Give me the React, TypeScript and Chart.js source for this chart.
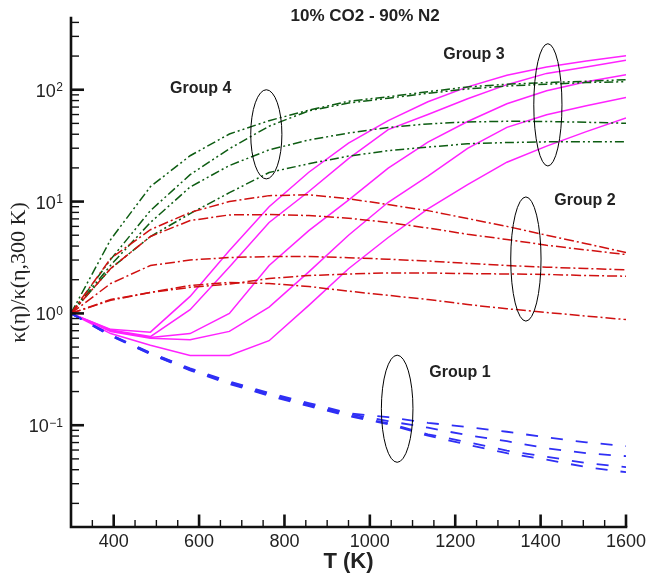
import React, { useEffect, useRef } from "react";
import { Chart, registerables } from "chart.js";

Chart.register(...registerables);

// ---- data ----
const temperatureK = [300, 393, 486, 579, 671, 764, 857, 950, 1043, 1136, 1229, 1321, 1414, 1507, 1600];

// Group 1 (blue dashed)
const blue1 = [1, 0.645, 0.445, 0.322, 0.246, 0.194, 0.158, 0.128, 0.118, 0.105, 0.0964, 0.0874, 0.0778, 0.0703, 0.065];
const blue2 = [1, 0.64, 0.442, 0.318, 0.242, 0.19, 0.154, 0.126, 0.109, 0.095, 0.0814, 0.072, 0.0623, 0.0562, 0.0529];
const blue3 = [1, 0.632, 0.436, 0.313, 0.238, 0.186, 0.151, 0.123, 0.104, 0.083, 0.0705, 0.0592, 0.0523, 0.0458, 0.0422];
const blue4 = [1, 0.628, 0.432, 0.309, 0.234, 0.183, 0.148, 0.121, 0.102, 0.0807, 0.067, 0.0562, 0.0492, 0.0422, 0.038];

// Group 2 (red dash-dot)
const red1 = [1, 3.1, 5.6, 8.0, 10.0, 11.3, 11.5, 10.6, 9.4, 8.3, 7.05, 6.0, 5.0, 4.2, 3.5];
const red2 = [1, 2.52, 4.87, 6.76, 7.6, 7.65, 7.5, 7.1, 6.5, 5.8, 5.1, 4.58, 4.07, 3.69, 3.36];
const red3 = [1, 1.85, 2.68, 3.0, 3.16, 3.22, 3.22, 3.15, 3.05, 2.94, 2.8, 2.68, 2.59, 2.52, 2.45];
const red4 = [1, 1.31, 1.54, 1.71, 1.83, 2.05, 2.18, 2.25, 2.3, 2.3, 2.27, 2.25, 2.23, 2.18, 2.15];
const red5 = [1, 1.33, 1.54, 1.78, 1.89, 1.85, 1.74, 1.58, 1.45, 1.33, 1.2, 1.1, 1.02, 0.946, 0.88];

// Group 3 (magenta solid)
const magenta1 = [1, 0.72, 0.68, 1.42, 3.65, 9.0, 18.3, 33.3, 52.9, 78, 106, 135, 160, 181, 201];
const magenta2 = [1, 0.71, 0.62, 1.08, 2.6, 6.5, 12.3, 24.2, 44, 60, 83, 111, 140, 160, 184];
const magenta3 = [1, 0.7, 0.61, 0.66, 1.0, 2.68, 5.5, 10.3, 19.9, 34, 52, 75, 98, 118, 136];
const magenta4 = [1, 0.69, 0.6, 0.58, 0.69, 1.14, 2.35, 5.0, 9.86, 16.9, 29.9, 46.1, 59.8, 72, 85.4];
const magenta5 = [1, 0.66, 0.52, 0.42, 0.42, 0.57, 1.18, 2.51, 4.77, 8.6, 14.2, 22.5, 31.3, 42.2, 55.9];

// Group 4 (green dash-dot-dot)
const green1 = [1, 4.58, 13.6, 25.7, 40.2, 52.9, 65.6, 78.9, 86.6, 96, 106, 112, 116, 119, 123];
const green2 = [1, 3.04, 8.3, 17.4, 29.7, 47.2, 64.8, 76, 84, 93, 101.6, 108, 112, 116, 118];
const green3 = [1, 2.7, 6.5, 13.5, 21, 29, 35.5, 41, 46, 49.5, 51.5, 52.2, 52, 51.2, 50.1];
const green4 = [1, 2.52, 4.87, 7.8, 12.0, 18.2, 21.8, 25.5, 28.5, 30.7, 32.9, 33.7, 34.2, 34.2, 34.2];

// axis ticks
const xTickValues = [400, 600, 800, 1000, 1200, 1400, 1600];
const yDecadeValues = [0.1, 1, 10, 100];
const yDecadeExponents = ["-1", "0", "1", "2"];

// group annotations
const groupNames = ["Group 1", "Group 2", "Group 3", "Group 4"];
const groupLabelT = [1211, 1504, 1244, 604];
const groupLabelY = [0.298, 10.3, 206, 102];
const ellipseTmin = [1027, 1330, 1384, 721];
const ellipseTmax = [1101, 1401, 1450, 794];
const ellipseYmin = [0.0466, 0.853, 20.8, 15.95];
const ellipseYmax = [0.423, 11.0, 258, 100];

const chartTitle = "10% CO2 - 90% N2";

const toPoints = (vals: number[]) => vals.map((v, i) => ({ x: temperatureK[i], y: v }));

const BLUE = "#2f2ff5";
const RED = "#d01010";
const MAGENTA = "#ff22ff";
const GREEN = "#0d5c12";

const mk = (vals: number[], color: string, dash: number[], width = 1.5) => ({
  data: toPoints(vals),
  borderColor: color,
  backgroundColor: color,
  borderWidth: width,
  borderDash: dash,
  pointRadius: 0,
  tension: 0,
  fill: false,
});

const decorPlugin = {
  id: "decor",
  afterDraw(chart: any) {
    const { ctx, chartArea: a, scales } = chart;
    const xs = scales.x;
    const ys = scales.y;
    ctx.save();
    ctx.strokeStyle = "#111";
    ctx.fillStyle = "#222";

    // axes
    ctx.lineWidth = 2.6;
    ctx.lineCap = "square";
    ctx.beginPath();
    ctx.moveTo(a.left, a.top);
    ctx.lineTo(a.left, a.bottom);
    ctx.lineTo(a.right, a.bottom);
    ctx.stroke();
    ctx.lineCap = "butt";

    // x ticks (inward)
    for (let t = 350; t <= 1600; t += 50) {
      const major = t % 200 === 0;
      const px = xs.getPixelForValue(t);
      ctx.lineWidth = major ? 2.6 : 1.4;
      ctx.beginPath();
      ctx.moveTo(px, a.bottom);
      ctx.lineTo(px, a.bottom - (major ? 12.5 : 7));
      ctx.stroke();
    }
    // y ticks (inward)
    for (let e = -2; e <= 2; e++) {
      for (let k = 1; k <= 9; k++) {
        const v = k * Math.pow(10, e);
        if (v < ys.min || v > ys.max) continue;
        const py = ys.getPixelForValue(v);
        const major = k === 1;
        ctx.lineWidth = major ? 2.6 : 1.4;
        ctx.beginPath();
        ctx.moveTo(a.left, py);
        ctx.lineTo(a.left + (major ? 13 : 8), py);
        ctx.stroke();
      }
    }

    // y tick labels with superscripts
    yDecadeValues.forEach((v, i) => {
      const py = ys.getPixelForValue(v);
      ctx.font = "12px 'Liberation Sans', Arial, sans-serif";
      const exp = yDecadeExponents[i].replace("-", "\u2212");
      const ew = ctx.measureText(exp).width;
      const right = a.left - 8;
      ctx.textAlign = "left";
      ctx.textBaseline = "alphabetic";
      ctx.fillText(exp, right - ew, py + 1.5);
      ctx.font = "18px 'Liberation Sans', Arial, sans-serif";
      ctx.textAlign = "right";
      ctx.fillText("10", right - ew - 0.5, py + 7);
    });

    // ellipses
    ctx.strokeStyle = "#000";
    ctx.lineWidth = 1;
    for (let i = 0; i < groupNames.length; i++) {
      const x1 = xs.getPixelForValue(ellipseTmin[i]);
      const x2 = xs.getPixelForValue(ellipseTmax[i]);
      const y1 = ys.getPixelForValue(ellipseYmax[i]);
      const y2 = ys.getPixelForValue(ellipseYmin[i]);
      ctx.beginPath();
      ctx.ellipse((x1 + x2) / 2, (y1 + y2) / 2, (x2 - x1) / 2, (y2 - y1) / 2, 0, 0, Math.PI * 2);
      ctx.stroke();
    }

    // group labels
    ctx.fillStyle = "#222";
    ctx.font = "bold 16px 'Liberation Sans', Arial, sans-serif";
    ctx.textAlign = "center";
    ctx.textBaseline = "middle";
    for (let i = 0; i < groupNames.length; i++) {
      ctx.fillText(groupNames[i], xs.getPixelForValue(groupLabelT[i]), ys.getPixelForValue(groupLabelY[i]));
    }

    // title
    ctx.font = "bold 17px 'Liberation Sans', Arial, sans-serif";
    ctx.fillText(chartTitle, a.left + (a.right - a.left) * 0.530, a.top - 1.5);
    ctx.restore();
  },
};

export default function App() {
  const ref = useRef<HTMLCanvasElement | null>(null);

  useEffect(() => {
    if (!ref.current) return;
    const blueDash = [12, 13];
    const redDash = [10, 3, 2, 3];
    const greenDash = [9, 3, 2, 3, 2, 3];
    const chart = new Chart(ref.current, {
      type: "line",
      data: {
        datasets: [
          mk(blue1, BLUE, blueDash, 1.8),
          mk(blue2, BLUE, blueDash, 1.8),
          mk(blue3, BLUE, blueDash, 1.8),
          mk(blue4, BLUE, blueDash, 1.8),
          mk(red1, RED, redDash),
          mk(red2, RED, redDash),
          mk(red3, RED, redDash),
          mk(red4, RED, redDash),
          mk(red5, RED, redDash),
          mk(green1, GREEN, greenDash),
          mk(green2, GREEN, greenDash),
          mk(green3, GREEN, greenDash),
          mk(green4, GREEN, greenDash),
          mk(magenta1, MAGENTA, []),
          mk(magenta2, MAGENTA, []),
          mk(magenta3, MAGENTA, []),
          mk(magenta4, MAGENTA, []),
          mk(magenta5, MAGENTA, []),
        ] as any,
      },
      options: {
        animation: false,
        responsive: false,
        maintainAspectRatio: false,
        layout: { padding: { left: 0, right: 21, top: 18, bottom: 0 } },
        plugins: {
          legend: { display: false },
          tooltip: { enabled: false },
          title: { display: false },
        },
        scales: {
          x: {
            type: "linear",
            min: 300,
            max: 1600,
            grid: { display: false, drawTicks: false },
            border: { display: false },
            afterBuildTicks: (s: any) => {
              s.ticks = xTickValues.map((v) => ({ value: v }));
            },
            afterFit: (s: any) => {
              s.height = 48;
              s.paddingLeft = 0;
              s.paddingRight = 0;
            },
            ticks: {
              font: { family: "'Liberation Sans', Arial, sans-serif", size: 18 },
              color: "#222",
              padding: 4,
              maxRotation: 0,
              autoSkip: false,
              callback: (v: any) => String(v),
            },
            title: {
              display: true,
              text: "T (K)",
              font: { family: "'Liberation Sans', Arial, sans-serif", size: 22, weight: "bold" },
              color: "#222",
              padding: 0,
            },
          },
          y: {
            type: "logarithmic",
            min: 0.0123,
            max: 438,
            grid: { display: false, drawTicks: false },
            border: { display: false },
            ticks: { display: false },
            afterFit: (s: any) => {
              s.width = 71;
              s.paddingTop = 0;
              s.paddingBottom = 0;
            },
            title: {
              display: true,
              text: "\u03BA(\u03B7)/\u03BA(\u03B7,300 K)",
              font: { family: "'Liberation Serif', 'Times New Roman', serif", size: 22 },
              color: "#222",
              padding: 6,
            },
          },
        },
      } as any,
      plugins: [decorPlugin],
    });
    return () => chart.destroy();
  }, []);

  return (
    <div style={{ position: "fixed", left: 0, top: 0, width: 647, height: 575, background: "#fff" }}>
      <canvas ref={ref} width={647} height={575} style={{ display: "block", width: 647, height: 575 }} />
    </div>
  );
}
